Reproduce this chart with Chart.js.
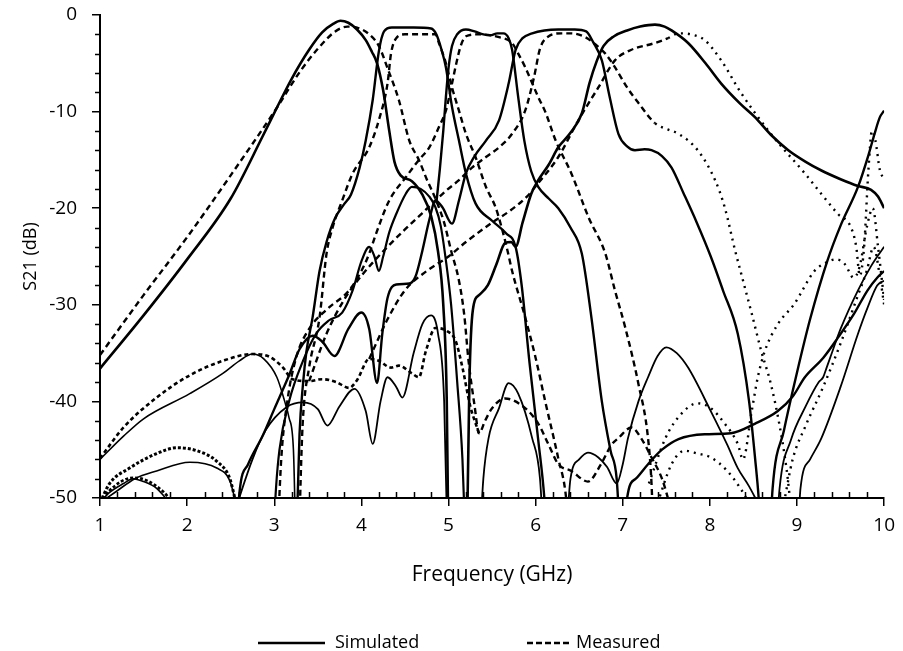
<!DOCTYPE html>
<html>
<head>
<meta charset="utf-8">
<script src="https://cdn.jsdelivr.net/npm/chart.js@4.4.1/dist/chart.umd.min.js"></script>
<style>
  html, body { margin: 0; padding: 0; background: #fff; }
</style>
</head>
<body>
<canvas id="s21" width="903" height="651"></canvas>
<script>
// tick labels
const xTicks = [1, 2, 3, 4, 5, 6, 7, 8, 9, 10];
const yTicks = [0, -10, -20, -30, -40, -50];

// simulated S21, [GHz, dB]
const simCh1 = [[1,-36.6],[1.5,-31.1],[2,-25.3],[2.5,-19],[2.87,-12.5],[3.03,-9.6],[3.2,-6.6],[3.4,-3.6],[3.55,-1.8],[3.68,-0.9],[3.76,-0.6],[3.85,-0.8],[3.95,-1.5],[4.05,-2.6],[4.12,-3.8],[4.18,-5],[4.25,-7.8],[4.32,-12],[4.38,-15.2],[4.45,-16.6],[4.58,-17.2],[4.7,-18.6],[4.8,-20.8],[4.88,-24.5],[4.94,-30],[4.98,-40],[5.0,-56]];
const simCh2 = [[3.25,-56],[3.29,-43.4],[3.33,-38.2],[3.37,-34.8],[3.44,-31.3],[3.52,-26.5],[3.6,-23.5],[3.7,-21],[3.8,-19.6],[3.88,-18.6],[3.98,-15.8],[4.05,-13],[4.13,-8.8],[4.2,-3.8],[4.26,-1.7],[4.35,-1.3],[4.6,-1.3],[4.8,-1.4],[4.86,-2],[4.92,-3.6],[4.97,-5.4],[5.04,-9.5],[5.12,-13],[5.2,-16.4],[5.31,-19.5],[5.5,-21.3],[5.66,-22.6],[5.77,-24],[5.84,-28],[5.93,-36],[6.03,-44],[6.1,-50],[6.14,-56]];
const simCh3 = [[4.86,-19.5],[4.9,-16],[4.94,-12],[4.97,-8.5],[5.0,-5.5],[5.04,-3.2],[5.1,-2],[5.2,-1.5],[5.3,-1.7],[5.4,-2],[5.48,-2.1],[5.56,-1.9],[5.63,-1.9],[5.69,-2.4],[5.73,-3.6],[5.8,-8.5],[5.87,-13],[5.95,-16.2],[6.03,-17.8],[6.15,-19],[6.26,-20],[6.4,-22],[6.53,-24.7],[6.64,-31.3],[6.76,-40],[6.86,-45.1],[6.93,-48],[6.98,-56]];
const simCh4 = [[2.56,-56],[2.6,-49.5],[2.7,-46.5],[2.87,-43.5],[3.0,-40.8],[3.17,-37.3],[3.29,-34.6],[3.44,-33.2],[3.55,-33.8],[3.69,-35.3],[3.85,-32.5],[4.0,-30.8],[4.09,-32.5],[4.18,-38.1],[4.24,-33],[4.3,-29.3],[4.4,-27.9],[4.55,-27.8],[4.62,-27.1],[4.7,-24.4],[4.78,-21.2],[4.85,-19.2],[4.93,-19.9],[5.04,-21.6],[5.12,-19.2],[5.2,-16.4],[5.3,-14.6],[5.43,-13],[5.58,-10.9],[5.69,-7.1],[5.77,-3.6],[5.85,-2.4],[5.96,-1.9],[6.1,-1.6],[6.26,-1.5],[6.45,-1.5],[6.58,-1.7],[6.66,-2.8],[6.76,-4.7],[6.85,-8.5],[6.95,-12.3],[7.05,-13.6],[7.14,-14],[7.25,-13.9],[7.33,-14],[7.45,-14.6],[7.56,-15.8],[7.7,-18.5],[7.85,-21.5],[8.01,-25],[8.15,-28.5],[8.32,-33],[8.45,-40],[8.52,-46],[8.56,-50],[8.6,-56]];
const simCh5 = [[5.21,-56],[5.24,-38],[5.28,-30.5],[5.35,-29],[5.45,-28],[5.55,-25.8],[5.65,-23.6],[5.72,-23.5],[5.77,-24],[5.85,-21.5],[5.95,-18.5],[6.03,-17.1],[6.15,-15.5],[6.26,-13.7],[6.4,-12.2],[6.53,-10.2],[6.62,-7],[6.7,-4.8],[6.78,-3.2],[6.9,-2.2],[7.05,-1.6],[7.2,-1.2],[7.37,-1],[7.48,-1.2],[7.56,-1.6],[7.75,-2.9],[7.95,-5],[8.13,-7.1],[8.35,-9.2],[8.52,-10.6],[8.7,-12.4],[8.9,-14],[9.1,-15.2],[9.28,-16.1],[9.5,-17],[9.7,-17.7],[9.85,-18.1],[9.93,-18.8],[10,-20]];
const simRise = [[2.98,-56],[3.02,-49],[3.06,-45],[3.17,-40],[3.33,-35.8],[3.48,-33],[3.63,-31.6],[3.78,-30.8],[3.9,-28.5],[4.0,-25.5],[4.09,-24],[4.15,-25],[4.2,-26.5],[4.25,-25],[4.32,-22.5],[4.4,-20.6],[4.51,-18.5],[4.58,-17.8],[4.68,-18],[4.78,-18.8],[4.85,-19.9],[4.91,-21.8],[4.97,-25.4],[5.03,-30],[5.1,-38],[5.16,-46],[5.2,-56]];
const simLow1 = [[1,-46],[1.27,-43.6],[1.5,-41.8],[2.03,-39.2],[2.41,-37.1],[2.6,-35.8],[2.75,-35.1],[2.88,-35.6],[3.03,-37.5],[3.12,-40],[3.17,-41.7],[3.22,-45],[3.25,-56]];
const simLow2 = [[1,-50.5],[1.19,-49.3],[1.4,-48],[1.65,-47.2],[2.03,-46.3],[2.34,-46.9],[2.49,-48.2],[2.56,-50.5]];
const simLow3 = [[1,-50.5],[1.1,-49.5],[1.27,-48.5],[1.38,-48],[1.5,-48.3],[1.65,-49],[1.8,-50.5]];
const simRipple = [[2.56,-51],[2.75,-46],[2.9,-43],[3.14,-40.6],[3.33,-40.1],[3.5,-40.8],[3.61,-42.5],[3.75,-40.5],[3.92,-38.7],[4.05,-41],[4.13,-44.4],[4.22,-40],[4.3,-37.5],[4.4,-38.5],[4.47,-39.6],[4.6,-35],[4.7,-32],[4.8,-31.1],[4.88,-33],[4.95,-40],[4.99,-56]];
const simBump1 = [[5.35,-56],[5.4,-48],[5.46,-43.8],[5.58,-40.7],[5.69,-38.1],[5.8,-39.2],[5.96,-43.8],[6.05,-48],[6.1,-56]];
const simBump2 = [[6.34,-56],[6.4,-48],[6.5,-46],[6.6,-45.3],[6.72,-45.8],[6.82,-46.8],[6.93,-48.5],[7.0,-46.5],[7.06,-43.8],[7.18,-40],[7.29,-37.5],[7.4,-35.3],[7.5,-34.4],[7.62,-35],[7.75,-36.5],[8.01,-41],[8.2,-44.5],[8.32,-46.9],[8.45,-48.8],[8.55,-50.5]];
const simFloor = [[7.02,-56],[7.05,-50],[7.15,-48],[7.29,-46.5],[7.45,-45],[7.64,-43.9],[7.94,-43.4],[8.24,-43.3],[8.52,-42.3],[8.78,-41],[8.95,-39.5],[9.09,-37.5],[9.3,-35.5],[9.47,-33.4],[9.65,-31],[9.81,-28.5],[9.92,-27.2],[10,-26.5]];
const simEdge = [[8.68,-56],[8.72,-49],[8.85,-43],[9.0,-37],[9.15,-31.5],[9.35,-25.4],[9.5,-21.8],[9.7,-17.8],[9.82,-14.5],[9.89,-12.3],[9.95,-10.6],[10,-9.9]];
const simTail1 = [[8.75,-56],[8.8,-49],[8.93,-44],[9.1,-40.5],[9.25,-38],[9.3,-37.5],[9.34,-36.5],[9.38,-35.5],[9.5,-32.5],[9.7,-28.5],[9.85,-26],[10,-24]];
const simTail2 = [[9.0,-56],[9.04,-49],[9.15,-46],[9.28,-43.8],[9.5,-38.5],[9.7,-33],[9.81,-30.3],[9.92,-28],[10,-27.5]];

// measured S21, [GHz, dB]
const measCh1 = [[1,-35.2],[1.5,-29],[2,-23],[2.5,-16.6],[3.03,-9.6],[3.3,-5.8],[3.5,-3.5],[3.7,-1.7],[3.84,-1.2],[3.95,-1.3],[4.09,-2],[4.2,-3.2],[4.3,-5.5],[4.43,-8.8],[4.55,-13],[4.66,-15],[4.75,-17],[4.85,-19],[4.95,-21.5],[5.03,-24.4],[5.12,-27.5],[5.18,-31],[5.23,-35.8],[5.3,-40.5],[5.35,-43.3],[5.42,-42],[5.5,-40.7],[5.65,-39.7],[5.88,-40.7],[6.03,-42.3],[6.15,-44.5],[6.26,-46.5],[6.41,-47.2],[6.6,-48.3],[6.75,-46.5],[6.87,-44.5],[6.95,-43.8],[7.1,-42.7],[7.21,-43.8],[7.33,-45.8],[7.45,-48],[7.55,-51]];
const measCh2 = [[3.28,-56],[3.31,-46],[3.33,-41.7],[3.4,-36.5],[3.52,-31.3],[3.6,-24.7],[3.67,-22],[3.78,-19.2],[3.9,-16.4],[4.09,-13.7],[4.2,-10.9],[4.3,-7.1],[4.34,-4],[4.4,-2.4],[4.5,-2],[4.85,-2],[4.89,-2.9],[4.97,-5],[5.04,-7.5],[5.12,-9.9],[5.2,-12.3],[5.31,-14.7],[5.43,-17.8],[5.54,-19.9],[5.61,-22],[5.68,-24.5],[5.73,-26.5],[5.88,-31.3],[6.0,-35.5],[6.11,-40],[6.26,-45.9],[6.35,-50],[6.4,-56]];
const measCh3 = [[3.03,-56],[3.08,-46],[3.15,-40],[3.25,-35.5],[3.4,-32.5],[3.6,-30.5],[3.86,-28.5],[4.0,-26.5],[4.09,-24.7],[4.17,-22.6],[4.32,-19.2],[4.51,-16.8],[4.66,-15],[4.78,-13.7],[4.89,-11.6],[4.97,-9.9],[5.04,-7.1],[5.08,-5.4],[5.14,-3.2],[5.2,-2.2],[5.35,-2],[5.58,-2.3],[5.73,-2.9],[5.8,-4],[5.88,-5.4],[6.03,-8.5],[6.11,-10],[6.23,-13],[6.41,-16.4],[6.61,-21],[6.8,-24.7],[6.91,-28.5],[7.03,-32.4],[7.18,-38.2],[7.29,-43.8],[7.33,-48.5],[7.36,-56]];
const measCh4 = [[3.4,-37.9],[3.6,-33],[3.8,-29.5],[4.0,-27],[4.3,-24],[4.5,-22.2],[4.7,-20.5],[4.97,-18.2],[5.12,-17.1],[5.27,-15.8],[5.43,-14.7],[5.58,-13.7],[5.73,-12.3],[5.88,-9.9],[5.98,-6.5],[6.05,-3.5],[6.15,-2.2],[6.3,-1.9],[6.41,-1.9],[6.57,-2.3],[6.68,-3],[6.8,-4],[6.91,-5.4],[7.05,-7.5],[7.18,-9.1],[7.37,-11.2],[7.5,-11.8],[7.64,-12.3],[7.86,-14],[8.06,-17.1],[8.17,-19.9],[8.29,-24.4],[8.36,-26.8],[8.48,-30.9],[8.59,-34.8],[8.7,-38.2],[8.8,-42.5],[8.88,-47],[8.93,-51]];
const measCh5 = [[4.09,-35.6],[4.3,-31.5],[4.5,-28.5],[4.75,-26.5],[5.0,-25],[5.2,-23.5],[5.5,-21.5],[5.7,-20.3],[5.9,-18.8],[6.03,-17.4],[6.26,-14.7],[6.49,-10.9],[6.72,-7.5],[6.91,-4.7],[7.1,-3.6],[7.37,-2.9],[7.52,-2.4],[7.64,-1.9],[7.78,-2],[7.94,-2.6],[8.13,-4.7],[8.36,-8.1],[8.7,-12.3],[9.09,-16.4],[9.47,-20.6],[9.62,-22],[9.68,-24],[9.72,-27],[9.77,-24],[9.82,-16],[9.86,-12],[9.9,-13],[9.95,-16],[10,-17]];
const measLow = [[1,-45.9],[1.27,-42.7],[1.65,-39.6],[2.03,-37.3],[2.41,-35.8],[2.75,-35.1],[2.95,-35.4],[3.1,-36.5],[3.21,-37.7],[3.4,-37.9],[3.55,-37.7],[3.71,-38],[3.86,-38.6],[3.95,-37.8],[4.09,-35.6],[4.2,-35.8],[4.34,-36.5],[4.43,-36.3],[4.58,-37.1],[4.66,-37.5],[4.74,-34.8],[4.85,-32.4],[4.98,-32.7],[5.08,-33.7],[5.16,-36.5],[5.25,-40.5],[5.35,-43.3]];
const measFloor1 = [[1,-50.5],[1.11,-48.5],[1.34,-46.9],[1.65,-45.4],[1.88,-44.8],[2.11,-45.1],[2.34,-46.2],[2.49,-48],[2.56,-50.5]];
const measFloor2 = [[1,-50.5],[1.1,-49.3],[1.38,-47.9],[1.54,-48.2],[1.72,-49.3],[1.84,-50.5]];
const measDot1 = [[7.3,-48.5],[7.49,-43.8],[7.67,-41.3],[7.86,-40.2],[8.01,-40.7],[8.17,-42.3],[8.32,-44.4],[8.38,-46],[8.48,-41],[8.55,-37.5],[8.63,-34.8],[8.78,-32],[8.97,-29.9],[9.2,-26.5],[9.32,-25.7],[9.45,-25.3],[9.55,-25.8],[9.65,-27.2],[9.72,-26],[9.8,-22],[9.87,-20],[9.93,-24],[10,-29.5]];
const measDot2 = [[7.4,-50.5],[7.56,-46.5],[7.71,-45.1],[7.86,-45.4],[8.01,-45.8],[8.2,-47.2],[8.35,-49],[8.45,-50.5]];
const measDot3 = [[8.85,-50.5],[8.95,-46],[9.1,-42.5],[9.3,-38.5],[9.5,-34],[9.7,-29],[9.8,-26.5],[9.88,-24],[9.95,-27],[10,-30]];

const DASH = [6, 4];
const DOT = [2, 5];

function curve(points, width, dash) {
  return {
    data: points.map(p => ({ x: p[0], y: p[1] })),
    borderColor: '#000', borderWidth: width, borderDash: dash || [],
    pointRadius: 0, fill: false, tension: 0.4, cubicInterpolationMode: 'monotone'
  };
}
// dashed near the passband, dotted further out
function dashThenDot(points, width, fromX) {
  const ds = curve(points, width, DASH);
  ds.segment = { borderDash: c => (c.p0.parsed.x >= fromX ? DOT : DASH) };
  return ds;
}

const datasets = [
  curve(simCh1, 2.6), curve(simCh2, 2.4), curve(simCh3, 2.4), curve(simCh4, 2.4), curve(simCh5, 2.6),
  curve(simRise, 2.2), curve(simLow1, 1.6), curve(simLow2, 1.6), curve(simLow3, 1.6),
  curve(simRipple, 1.8), curve(simBump1, 1.8), curve(simBump2, 1.8), curve(simFloor, 2.4),
  curve(simEdge, 2.4), curve(simTail1, 1.8), curve(simTail2, 1.8),
  curve(measCh1, 2.4, DASH), curve(measCh2, 2.4, DASH), curve(measCh3, 2.4, DASH),
  dashThenDot(measCh4, 2.4, 7.2), dashThenDot(measCh5, 2.4, 7.5),
  curve(measLow, 2.6, [4, 3]), curve(measFloor1, 3, [3, 2]), curve(measFloor2, 2.6, [3, 2]),
  curve(measDot1, 2.4, DOT), curve(measDot2, 2.4, DOT), curve(measDot3, 2.4, DOT)
];

// minor ticks every 0.2 GHz and 2 dB, plus the legend row
const axisExtras = {
  id: 'axisExtras',
  afterDraw(chart) {
    const ctx = chart.ctx, xs = chart.scales.x, ys = chart.scales.y;
    const area = chart.chartArea;
    ctx.save();
    ctx.strokeStyle = '#000';
    ctx.lineWidth = 1.5;
    ctx.beginPath();
    for (let i = 1; i < 45; i++) {
      if (i % 5 === 0) continue;
      const px = Math.round(xs.getPixelForValue(1 + i * 0.2)) + 0.5;
      ctx.moveTo(px, area.bottom - 6);
      ctx.lineTo(px, area.bottom);
    }
    for (let i = 1; i < 25; i++) {
      if (i % 5 === 0) continue;
      const py = Math.round(ys.getPixelForValue(-i * 2)) + 0.5;
      ctx.moveTo(area.left - 5, py);
      ctx.lineTo(area.left, py);
    }
    ctx.stroke();

    ctx.font = '18px "Open Sans"';
    ctx.fillStyle = '#000';
    ctx.textBaseline = 'middle';
    const ly = 643;
    ctx.lineWidth = 2.6;
    ctx.setLineDash([]);
    ctx.beginPath(); ctx.moveTo(258, ly); ctx.lineTo(325, ly); ctx.stroke();
    ctx.fillText('Simulated', 335, ly);
    ctx.setLineDash([6, 3]);
    ctx.beginPath(); ctx.moveTo(527, ly); ctx.lineTo(571, ly); ctx.stroke();
    ctx.setLineDash([]);
    ctx.fillText('Measured', 576, ly);
    ctx.restore();
  }
};

const font = { family: 'Open Sans', size: 19 };

new Chart(document.getElementById('s21'), {
  type: 'line',
  data: { datasets },
  options: {
    responsive: false,
    animation: false,
    layout: { padding: { left: 20, right: 14, top: 15, bottom: 0 } },
    plugins: { legend: { display: false }, tooltip: { enabled: false } },
    scales: {
      x: {
        type: 'linear', min: 1, max: 10,
        afterBuildTicks: s => { s.ticks = xTicks.map(v => ({ value: v })); },
        grid: { drawOnChartArea: false, color: '#000', lineWidth: 1.5, tickLength: 8 },
        border: { color: '#000', width: 2 },
        ticks: { color: '#000', font, padding: 8, autoSkip: false, maxRotation: 0 },
        title: { display: true, text: 'Frequency (GHz)', color: '#000', font: { family: 'Open Sans', size: 21 }, padding: { top: 18, bottom: 63 } }
      },
      y: {
        type: 'linear', min: -50, max: 0,
        afterBuildTicks: s => { s.ticks = yTicks.map(v => ({ value: v })); },
        afterFit: s => { s.paddingTop = 0; s.width = 80; },
        grid: { drawOnChartArea: false, color: '#000', lineWidth: 1.5, tickLength: 8 },
        border: { color: '#000', width: 2 },
        ticks: { color: '#000', font, padding: 15, autoSkip: false },
        title: { display: true, text: 'S21 (dB)', color: '#000', font: { family: 'Open Sans', size: 18 }, padding: { top: 0, bottom: 7 } }
      }
    }
  },
  plugins: [axisExtras]
});
</script>
</body>
</html>
